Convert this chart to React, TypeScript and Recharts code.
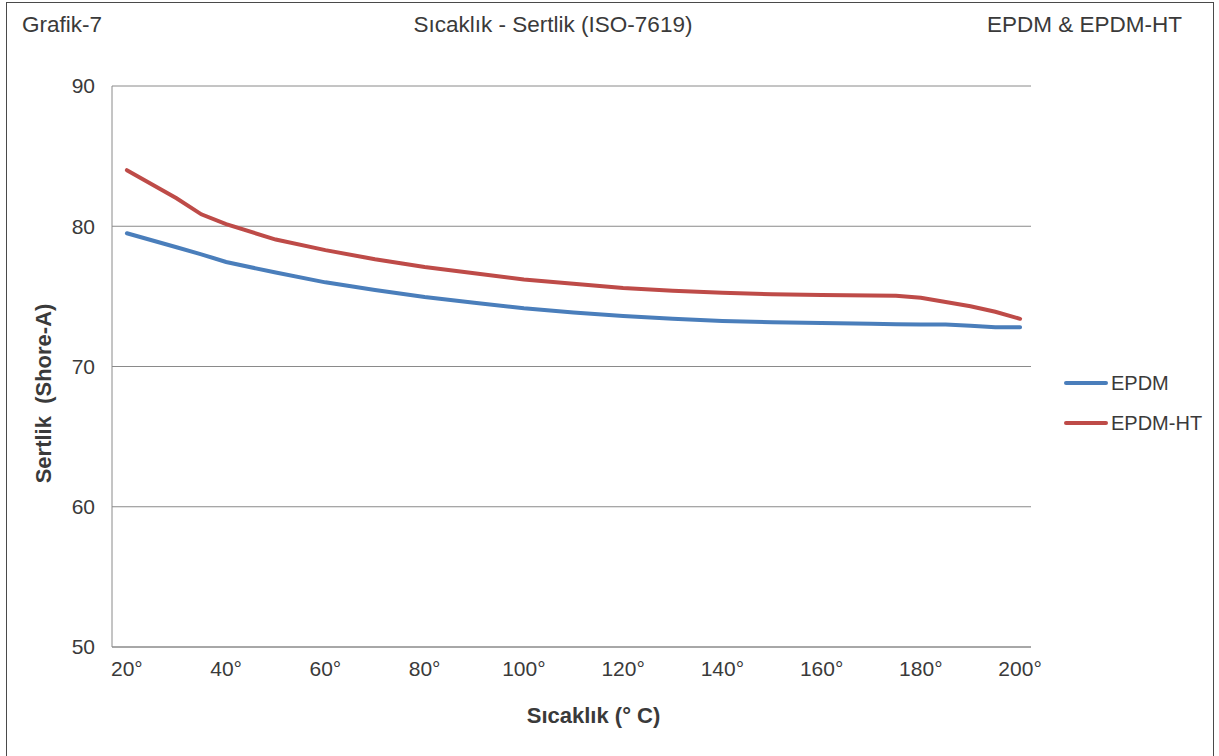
import React from 'react';
import { LineChart, Line, XAxis, YAxis, CartesianGrid, Label } from 'recharts';

const temperatures = [20, 30, 35, 40, 50, 60, 70, 80, 90, 100, 110, 120, 130, 140, 150, 160, 170, 175, 180, 185, 190, 195, 200];
const epdm = [79.5, 78.5, 78.0, 77.45, 76.7, 76.0, 75.45, 74.95, 74.55, 74.15, 73.85, 73.6, 73.4, 73.25, 73.15, 73.1, 73.05, 73.02, 73.0, 73.0, 72.9, 72.8, 72.8];
const epdmHT = [84.0, 82.0, 80.85, 80.15, 79.05, 78.3, 77.65, 77.1, 76.65, 76.2, 75.9, 75.6, 75.4, 75.25, 75.15, 75.1, 75.07, 75.05, 74.9, 74.6, 74.3, 73.9, 73.4];
const xTicks = [20, 40, 60, 80, 100, 120, 140, 160, 180, 200];
const yTicks = [50, 60, 70, 80, 90];

const headerLeft = 'Grafik-7';
const headerCenter = 'Sıcaklık - Sertlik (ISO-7619)';
const headerRight = 'EPDM & EPDM-HT';
const xTitle = 'Sıcaklık (° C)';
const yTitle = 'Sertlik  (Shore-A)';

const data = temperatures.map((t, i) => ({ t, EPDM: epdm[i], 'EPDM-HT': epdmHT[i] }));

const FONT = '"Liberation Sans", Arial, Helvetica, sans-serif';
const TEXT = '#3a3a3a';
const BLUE = '#4a7ebb';
const RED = '#be4b48';

const legendItems = [
  { name: 'EPDM', color: BLUE },
  { name: 'EPDM-HT', color: RED },
];

export default function App() {
  return (
    <div style={{ position: 'absolute', left: 0, top: 0, width: 1219, height: 756, background: '#fff', fontFamily: FONT, overflow: 'hidden' }}>
      <div style={{ position: 'absolute', left: 6, top: 2, width: 1208, height: 800, border: '1.5px solid #4a4a4a', boxSizing: 'border-box' }} />
      <div style={{ position: 'absolute', left: 22, top: 12, fontSize: 22.5, color: TEXT, lineHeight: '26px' }}>{headerLeft}</div>
      <div style={{ position: 'absolute', left: 353, width: 400, top: 12, textAlign: 'center', fontSize: 22.5, color: TEXT, lineHeight: '26px' }}>{headerCenter}</div>
      <div style={{ position: 'absolute', right: 1219 - 1182, top: 12, fontSize: 22.5, color: TEXT, lineHeight: '26px' }}>{headerRight}</div>
      <div style={{ position: 'absolute', left: 0, top: 0 }}>
        <LineChart width={1219} height={756} data={data} margin={{ top: 86, right: 188, bottom: 49, left: 62 }}>
          <CartesianGrid vertical={false} stroke="#8a8a8a" strokeWidth={1} />
          <XAxis
            dataKey="t"
            type="number"
            domain={[17, 202.2]}
            ticks={xTicks}
            tickFormatter={(v) => `${v}°`}
            height={60}
            tickLine={false}
            axisLine={{ stroke: '#8a8a8a' }}
            tickSize={0}
            tickMargin={14}
            tick={{ fill: TEXT, fontSize: 21, fontFamily: FONT }}
            interval={0}
          >
            <Label
              content={({ viewBox }: any) => (
                <text x={viewBox.x + viewBox.width / 2 + 22} y={723} textAnchor="middle" fill={TEXT} fontSize={22} fontWeight="bold" fontFamily={FONT}>
                  {xTitle}
                </text>
              )}
            />
          </XAxis>
          <YAxis
            domain={[50, 90]}
            ticks={yTicks}
            width={50}
            tickLine={false}
            axisLine={{ stroke: '#8a8a8a' }}
            tickSize={0}
            tickMargin={17}
            tick={{ fill: TEXT, fontSize: 21, fontFamily: FONT }}
            interval={0}
          >
            <Label
              content={({ viewBox }: any) => {
                const cx = 43;
                const cy = viewBox.y + viewBox.height / 2 + 27;
                return (
                  <text x={cx} y={cy} transform={`rotate(-90, ${cx}, ${cy})`} textAnchor="middle" dominantBaseline="central" fill={TEXT} fontSize={22} fontWeight="bold" fontFamily={FONT} style={{ whiteSpace: 'pre' }}>
                    {yTitle}
                  </text>
                );
              }}
            />
          </YAxis>
          <Line type="linear" dataKey="EPDM" stroke={BLUE} strokeWidth={4} dot={false} isAnimationActive={false} strokeLinecap="round" />
          <Line type="linear" dataKey="EPDM-HT" stroke={RED} strokeWidth={4} dot={false} isAnimationActive={false} strokeLinecap="round" />
        </LineChart>
      </div>
      <div style={{ position: 'absolute', left: 1064, top: 363, fontFamily: FONT, fontSize: 20, color: TEXT }}>
        {legendItems.map((it) => (
          <div key={it.name} style={{ display: 'flex', alignItems: 'center', height: 40 }}>
            <div style={{ width: 44, height: 4, background: it.color, borderRadius: 2, marginRight: 3 }} />
            <span>{it.name}</span>
          </div>
        ))}
      </div>
    </div>
  );
}
